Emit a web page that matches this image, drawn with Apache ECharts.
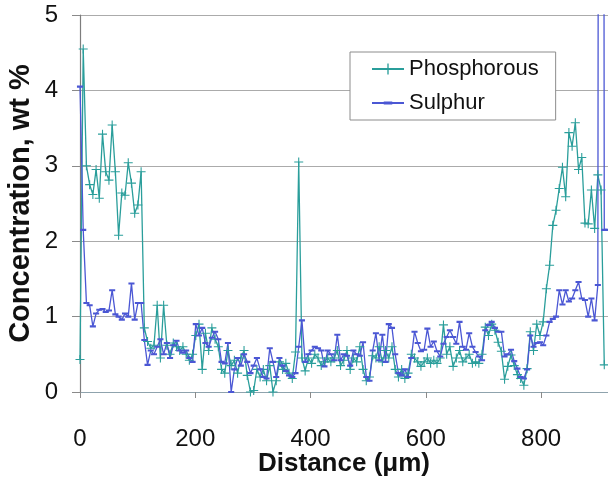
<!DOCTYPE html>
<html>
<head>
<meta charset="utf-8">
<script src="https://cdn.jsdelivr.net/npm/echarts@6/dist/echarts.min.js"></script>
<style>html,body{margin:0;padding:0;background:#fff}#c{width:608px;height:478px}</style>
</head>
<body>
<div id="c"></div>
<script>
// Line-scan sampling step (micrometres) and axis ticks
const distanceStepUm = 5.58;
const xTicks = [0, 200, 400, 600, 800];
const yTicks = [0, 1, 2, 3, 4, 5];
const seriesNames = ['Phosphorous', 'Sulphur'];

// Phosphorous concentration (wt %) along the scan
const phosphorous = [
  0.43, 4.55, 3.0, 2.75, 2.62, 2.95, 2.57, 3.42, 2.92, 2.81, 3.54, 2.92, 2.08, 2.64, 2.61, 3.04, 2.77, 2.37, 2.48, 2.92, 0.85, 0.67,
  0.58, 0.62, 1.15, 0.45, 1.15, 0.62, 0.5, 0.65, 0.6, 0.55, 0.6, 0.5, 0.42, 0.5, 0.75, 0.9, 0.3, 0.78, 0.55, 0.85, 0.7, 0.6, 0.3, 0.25, 0.55, 0.35, 0.42, 0.25, 0.45, 0.55, 0.22, 0.0, 0.02, 0.3,
  0.2, 0.3, 0.15, 0.35, 0.0, 0.15, 0.4, 0.3, 0.38, 0.25, 0.18, 0.53, 3.05, 0.45, 0.28,
  0.45, 0.38, 0.5, 0.45, 0.35, 0.4, 0.45, 0.4, 0.45, 0.55, 0.35, 0.42, 0.55, 0.3, 0.45, 0.4, 0.6, 0.3, 0.15, 0.2, 0.48, 0.45, 0.6, 0.4, 0.55, 0.45, 0.6, 0.3, 0.2, 0.3, 0.18, 0.25, 0.5, 0.45, 0.4,
  0.34, 0.4, 0.45, 0.38, 0.42, 0.38, 0.45, 0.89, 0.5, 0.6, 0.34, 0.45, 0.55, 0.4, 0.45, 0.5, 0.38, 0.4, 0.38, 0.5, 0.86, 0.75, 0.9, 0.82, 0.66, 0.54, 0.17, 0.34, 0.49, 0.35, 0.23, 0.18, 0.09, 0.31, 0.8, 0.55, 0.9, 0.75, 0.93,
  1.37, 1.68, 2.21, 2.41, 2.7, 2.98, 2.59, 3.44, 3.26, 3.57, 2.95, 3.11, 2.24, 2.23, 2.68, 2.17, 2.88, 2.68, 0.36, null
];

// Sulphur concentration (wt %) along the scan
const sulphur = [
  4.05, 2.15, 1.18, 1.15, 0.87, 1.04, 1.09, 1.1, 1.06, 1.08, 1.35, 1.03, 1.0, 0.96, 1.04, 1.0, 1.44, 0.96, 1.18, 1.18, 0.69, 0.36,
  0.55, 0.5, 0.6, 0.7, 0.5, 0.65, 0.45, 0.62, 0.68, 0.55, 0.52, 0.55, 0.45, 0.4, 0.9, 0.75, 0.85, 0.65, 0.6, 0.72, 0.8, 0.7, 0.4, 0.38, 0.65, 0.0, 0.3, 0.45, 0.35, 0.5, 0.4, 0.25, 0.35, 0.45,
  0.3, 0.2, 0.18, 0.58, 0.4, 0.2, 0.45, 0.35, 0.28, 0.22, 0.2, 0.25, 0.6, 0.95, 0.4,
  0.5, 0.55, 0.6, 0.58, 0.55, 0.34, 0.55, 0.5, 0.42, 0.76, 0.42, 0.5, 0.48, 0.35, 0.55, 0.5, 0.48, 0.66, 0.2, 0.15, 0.55, 0.78, 0.42, 0.76, 0.4, 0.9, 0.85, 0.5, 0.25, 0.22, 0.3, 0.2, 0.45, 0.8, 0.65,
  0.54, 0.56, 0.84, 0.6, 0.67, 0.54, 0.47, 0.64, 0.73, 0.82, 0.73, 0.64, 0.93, 0.6, 0.56, 0.78, 0.6, 0.53, 0.47, 0.42, 0.82, 0.89, 0.93, 0.85, 0.8, 0.8, 0.47, 0.5, 0.56, 0.41, 0.31, 0.2, 0.18, 0.3, 0.75, 0.6, 0.65, 0.66, 0.62,
  0.75, 0.93, 0.97, 1.0, 1.35, 1.16, 1.35, 1.2, 1.24, 1.35, 1.46, 1.24, 1.22, 1.0, 1.24, 0.95, 1.42, 40, 2.15, 2.15
];

const toPairs = arr => arr.map((v, i) => [+(i * distanceStepUm).toFixed(2), v]);

const chart = echarts.init(document.getElementById('c'), null, {renderer: 'canvas'});
const FONT = '"Liberation Sans", Arial, Helvetica, sans-serif';
// "+" marker and "-" marker, both inside a square 10x10 box
const plus = 'path://M4.4,0H5.6V4.4H10V5.6H5.6V10H4.4V5.6H0V4.4H4.4Z';
const dash = 'path://M0,0H0.01V0.01H0Z M10,10H9.99V9.99H10Z M1.2,3.7H8.8V6.3H1.2Z';

chart.setOption({
  animation: false,
  backgroundColor: '#ffffff',
  grid: {left: 80, right: 0, top: 15, bottom: 86, containLabel: false, outerBoundsMode: 'none'},
  legend: {
    data: seriesNames,
    orient: 'vertical',
    left: 350, top: 52,
    itemWidth: 32, itemHeight: 14, itemGap: 10,
    padding: [5, 17, 5, 21],
    borderColor: '#8c8c8c', borderWidth: 1, backgroundColor: '#ffffff',
    textStyle: {fontFamily: FONT, fontSize: 22, color: '#111', lineHeight: 24}
  },
  xAxis: {
    type: 'value', min: 0, max: 916, interval: 200,
    name: 'Distance (\u03bcm)', nameLocation: 'middle', nameGap: 59, nameMoveOverlap: false,
    nameTextStyle: {fontFamily: FONT, fontSize: 26, fontWeight: 'bold', color: '#111'},
    axisLine: {show: true, onZero: false, lineStyle: {color: '#8fa3ad', width: 1}},
    axisTick: {show: true, length: 6, lineStyle: {color: '#8a8a8a'}},
    axisLabel: {
      margin: 35, fontFamily: FONT, fontSize: 24, color: '#111',
      showMaxLabel: false,
      formatter: v => (xTicks.indexOf(v) >= 0 ? String(v) : '')
    },
    splitLine: {show: false}
  },
  yAxis: {
    type: 'value', min: 0, max: 5, interval: 1,
    name: 'Concentration, wt %', nameLocation: 'middle', nameGap: 45, nameMoveOverlap: false,
    nameTextStyle: {fontFamily: FONT, fontSize: 29, fontWeight: 'bold', color: '#111'},
    axisLine: {show: true, lineStyle: {color: '#7d7d7d', width: 1.2}},
    axisTick: {show: true, length: 8, inside: false, lineStyle: {color: '#8a8a8a'}},
    axisLabel: {margin: 22, fontFamily: FONT, fontSize: 24, color: '#111',
      formatter: v => (yTicks.indexOf(v) >= 0 ? String(v) : '')},
    splitLine: {show: true, lineStyle: {color: '#ababab', width: 1}}
  },
  series: [
    {
      name: seriesNames[0], type: 'line', data: toPairs(phosphorous),
      symbol: plus, symbolSize: 9, showAllSymbol: true, clip: true,
      lineStyle: {color: '#2a9e9b', width: 1.3},
      itemStyle: {color: '#2a9e9b'}
    },
    {
      name: seriesNames[1], type: 'line', data: toPairs(sulphur),
      symbol: dash, symbolSize: 8, showAllSymbol: true, clip: true,
      lineStyle: {color: '#4b57d4', width: 1.3},
      itemStyle: {color: '#4b57d4'}
    }
  ]
});
</script>
</body>
</html>
